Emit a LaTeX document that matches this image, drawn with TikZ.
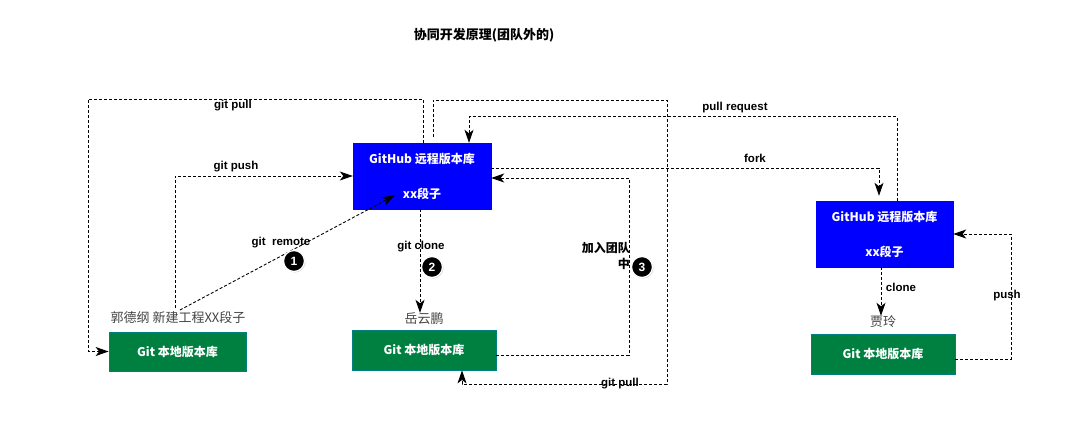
\documentclass[tikz,border=0pt]{standalone}
\usepackage{fontspec}
\setmainfont{Liberation Sans}
\newfontfamily\cjk{Noto Sans CJK SC}
\usetikzlibrary{arrows.meta,shadows}
\definecolor{ghblue}{RGB}{0,0,255}
\definecolor{gitgreen}{RGB}{0,128,64}
\definecolor{gitedge}{RGB}{0,128,128}
\definecolor{lblgray}{RGB}{68,68,68}
\tikzset{
  dl/.style={densely dashed, line width=0.9pt, black, -{Stealth[length=13pt,width=9pt,inset=3.5pt]}},
  ghbox/.style={fill=ghblue, draw=ghblue, text=white, minimum width=138pt, minimum height=66pt, inner sep=0pt, align=center, font=\cjk\bfseries\fontsize{12}{35}\selectfont},
  gitbox/.style={fill=gitgreen, draw=gitedge, line width=0.8pt, text=white, minimum width=138pt, minimum height=39pt, inner sep=0pt, font=\cjk\bfseries\fontsize{12}{14}\selectfont},
  lbl/.style={font=\bfseries\fontsize{11.5}{13}\selectfont, inner sep=0pt},
  who/.style={font=\cjk\fontsize{13}{15}\selectfont, text=lblgray, inner sep=0pt},
  num/.style={circle, fill=black, draw=white, line width=1.3pt, minimum size=21pt, inner sep=0pt, text=white, font=\bfseries\fontsize{12}{14}\selectfont, drop shadow={shadow xshift=1pt, shadow yshift=-1pt, fill=gray!70}}
}
\begin{document}
\begin{tikzpicture}[x=1pt,y=-1pt]
\useasboundingbox (0,0) rectangle (1078,442);
% title
\node[font=\cjk\bfseries\fontsize{13}{16}\selectfont, inner sep=0pt] (title) at (484,35) {协同开发原理(团队外的)};
% boxes
\node[ghbox] (gh1) at (422,176) {GitHub 远程版本库\\xx段子};
\node[ghbox, minimum width=137pt] (gh2) at (884.5,234) {GitHub 远程版本库\\xx段子};
\node[gitbox, minimum width=137pt] (g1) at (177.5,351.5) {Git 本地版本库};
\node[gitbox, minimum width=144pt, minimum height=40pt] (g2) at (424,350) {Git 本地版本库};
\node[gitbox, minimum width=144pt, minimum height=40pt] (g3) at (883,354) {Git 本地版本库};
% people labels
\node[who] (guo) at (178,318) {郭德纲 新建工程XX段子};
\node[who] (yue) at (424,319) {岳云鹏};
\node[who] (jia) at (883,322) {贾玲};
% free ends
\coordinate (pullS) at (433,137);
\coordinate (pushS) at (175,308);
\coordinate (remS) at (180,310);
% connectors
\draw[dl] ([xshift=1pt]gh1.north) |- (88,99) |- (g1.west);
\draw[dl] (pullS) |- (667,100) -- (667,384) -| ([xshift=38pt]g2.south);
\draw[dl] (pushS) |- (gh1.west);
\draw[dl] (remS) -- ([xshift=-27pt,yshift=14pt]gh1.south);
\draw[dl] ([xshift=-2pt]gh1.south) -- ([xshift=-4pt]yue.north);
\draw[dl] ([yshift=-5pt]g2.east) -| (629,178) -- (gh1.east |- 0,178);
\draw[dl] ([xshift=12.5pt]gh2.north) -- ++(0,-84) -| ([xshift=47pt]gh1.north);
\draw[dl, shorten >=5pt] ([yshift=8pt]gh1.east) -| ([xshift=-5.5pt]gh2.north);
\draw[dl] ([xshift=-3.5pt]gh2.south) -- ([xshift=-2pt]jia.north);
\draw[dl] ([yshift=-5pt]g3.east) -| (1011,234) -- (gh2.east);
% labels
\node[lbl] (lpull1) at (233,106) {git pull};
\node[lbl] (lpush) at (236,167) {git push};
\node[lbl] (lremote) at (281,243) {git\ \ remote};
\node[lbl] (lclone) at (421,247) {git clone};
\node[lbl, font=\cjk\bfseries\fontsize{12}{16}\selectfont, align=right, anchor=east] (ljoin) at (630,256) {加入团队\\中};
\node[lbl] (lpull2) at (620,384) {git pull};
\node[lbl] (lpr) at (735,108) {pull request};
\node[lbl] (lfork) at (755,158) {fork};
\node[lbl] (lclone2) at (901,287) {clone};
\node[lbl] (lpush2) at (1007,296) {push};
% numbered markers
\node[num] (n1) at (294,261) {1};
\node[num] (n2) at (432,267) {2};
\node[num] (n3) at (642,267) {3};
\end{tikzpicture}
\end{document}
